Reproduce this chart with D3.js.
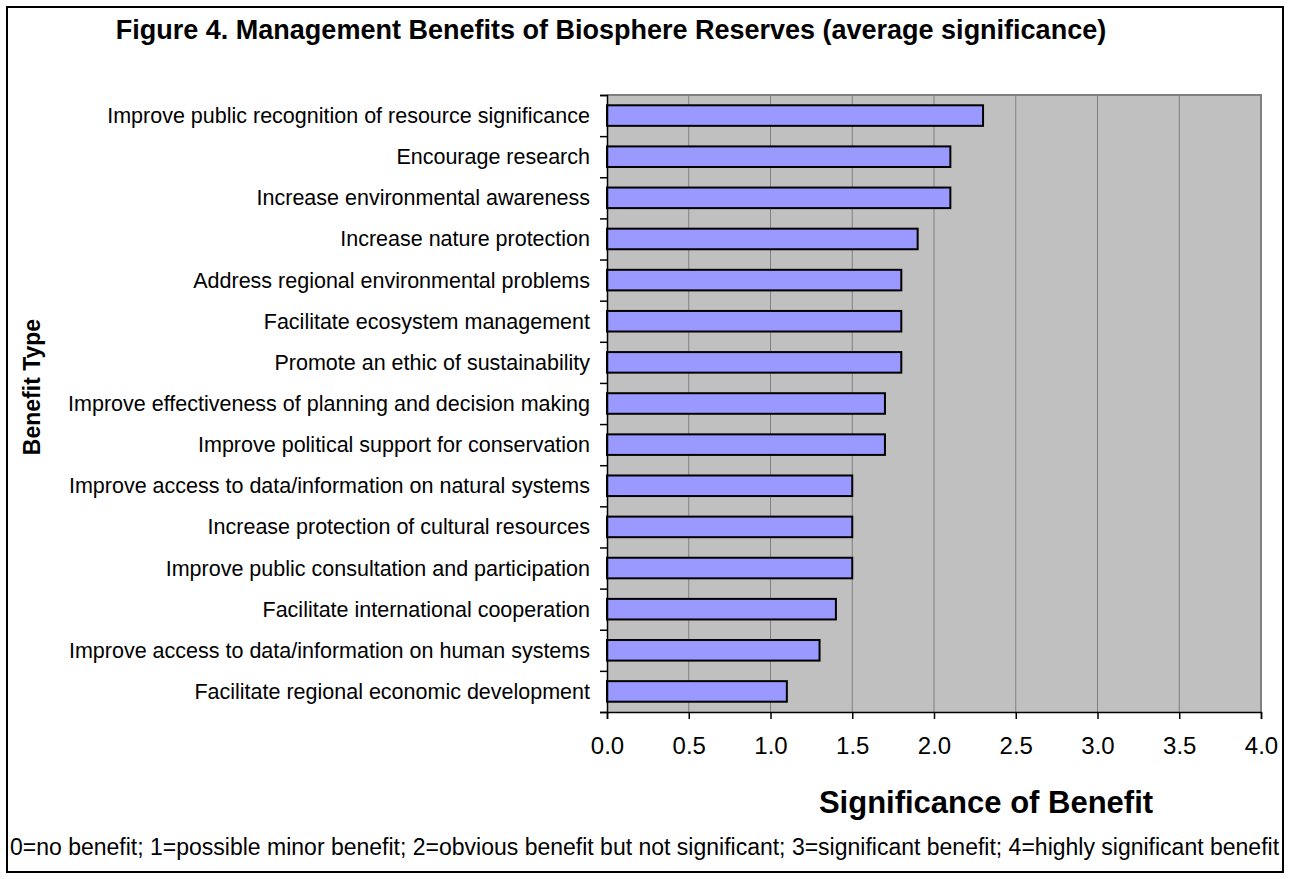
<!DOCTYPE html>
<html>
<head>
<meta charset="utf-8">
<script src="https://cdn.jsdelivr.net/npm/d3@7"></script>
<style>
  body { margin: 0; background: #fff; }
  text { font-family: Arial, "Liberation Sans", sans-serif; }
</style>
</head>
<body>
<script>
// benefit categories, top to bottom
var categories = [
    "Improve public recognition of resource significance",
    "Encourage research",
    "Increase environmental awareness",
    "Increase nature protection",
    "Address regional environmental problems",
    "Facilitate ecosystem management",
    "Promote an ethic of sustainability",
    "Improve effectiveness of planning and decision making",
    "Improve political support for conservation",
    "Improve access to data/information on natural systems",
    "Increase protection of cultural resources",
    "Improve public consultation and participation",
    "Facilitate international cooperation",
    "Improve access to data/information on human systems",
    "Facilitate regional economic development"
];
var values = [2.3, 2.1, 2.1, 1.9, 1.8, 1.8, 1.8, 1.7, 1.7, 1.5, 1.5, 1.5, 1.4, 1.3, 1.1];
var xTicks = [0, 0.5, 1, 1.5, 2, 2.5, 3, 3.5, 4];

var W = 1292, H = 879;
var plot = {left: 607, top: 95, right: 1261, bottom: 712};

var svg = d3.select("body").append("svg")
    .attr("width", W)
    .attr("height", H);

// outer frame
svg.append("rect")
    .attr("x", 7).attr("y", 7)
    .attr("width", 1276).attr("height", 865)
    .attr("fill", "#fff")
    .attr("stroke", "#000")
    .attr("stroke-width", 2);

var x = d3.scaleLinear().domain([0, 4]).range([plot.left, plot.right]);
var y = d3.scaleBand().domain(categories).range([plot.top, plot.bottom]).paddingInner(0.5).paddingOuter(0.25);

// plot background
svg.append("rect")
    .attr("x", plot.left).attr("y", plot.top)
    .attr("width", plot.right - plot.left).attr("height", plot.bottom - plot.top)
    .attr("fill", "#c0c0c0");

// gridlines
svg.append("g")
    .selectAll("line")
    .data(xTicks.slice(1))
    .enter()
    .append("line")
    .attr("x1", function(d) { return x(d); })
    .attr("x2", function(d) { return x(d); })
    .attr("y1", plot.top)
    .attr("y2", plot.bottom)
    .attr("stroke", "#808080")
    .attr("stroke-width", 1);

// plot border top/right
svg.append("path")
    .attr("d", "M" + plot.left + "," + plot.top + "H" + plot.right + "V" + plot.bottom)
    .attr("fill", "none")
    .attr("stroke", "#808080")
    .attr("stroke-width", 2);

// bars
svg.append("g")
    .selectAll("rect")
    .data(values)
    .enter()
    .append("rect")
    .attr("x", x(0))
    .attr("y", function(d, i) { return y(categories[i]); })
    .attr("width", function(d) { return x(d) - x(0); })
    .attr("height", y.bandwidth())
    .attr("fill", "#9999ff")
    .attr("stroke", "#000")
    .attr("stroke-width", 2);

// x axis
var xAxis = svg.append("g")
    .attr("transform", "translate(0," + plot.bottom + ")")
    .call(d3.axisBottom(x).tickValues(xTicks).tickSize(7).tickPadding(18)
        .tickFormat(d3.format(".1f")));
xAxis.select(".domain").attr("stroke", "#000").attr("stroke-width", 1.5);
xAxis.selectAll(".tick line").attr("stroke", "#000").attr("stroke-width", 1.5);
xAxis.selectAll("text")
    .attr("font-size", 24)
    .attr("fill", "#000")
    .style("font-family", "Arial, 'Liberation Sans', sans-serif");

// y axis: ticks at category boundaries
var yScaleLin = d3.scaleLinear().domain([0, categories.length]).range([plot.top, plot.bottom]);
var yAxis = svg.append("g")
    .attr("transform", "translate(" + plot.left + ",0)")
    .call(d3.axisLeft(yScaleLin).tickValues(d3.range(categories.length + 1)).tickSize(7).tickFormat(""));
yAxis.select(".domain").attr("stroke", "#000").attr("stroke-width", 1.5);
yAxis.selectAll(".tick line").attr("stroke", "#000").attr("stroke-width", 1.5);

// category labels
svg.append("g")
    .selectAll("text")
    .data(categories)
    .enter()
    .append("text")
    .attr("x", 590)
    .attr("y", function(d) { return y(d) + y.bandwidth() / 2; })
    .attr("dy", "0.35em")
    .attr("text-anchor", "end")
    .attr("font-size", 21.5)
    .text(function(d) { return d; });

// titles
svg.append("text")
    .attr("x", 611).attr("y", 39)
    .attr("text-anchor", "middle")
    .attr("font-size", 27)
    .attr("font-weight", "bold")
    .text("Figure 4. Management Benefits of Biosphere Reserves (average significance)");

svg.append("text")
    .attr("x", 986).attr("y", 813)
    .attr("text-anchor", "middle")
    .attr("font-size", 31)
    .attr("font-weight", "bold")
    .text("Significance of Benefit");

svg.append("text")
    .attr("transform", "translate(40,387) rotate(-90)")
    .attr("text-anchor", "middle")
    .attr("font-size", 23)
    .attr("font-weight", "bold")
    .text("Benefit Type");

svg.append("text")
    .attr("x", 10).attr("y", 855)
    .attr("font-size", 23)
    .text("0=no benefit; 1=possible minor benefit; 2=obvious benefit but not significant; 3=significant benefit; 4=highly significant benefit");
</script>
</body>
</html>
